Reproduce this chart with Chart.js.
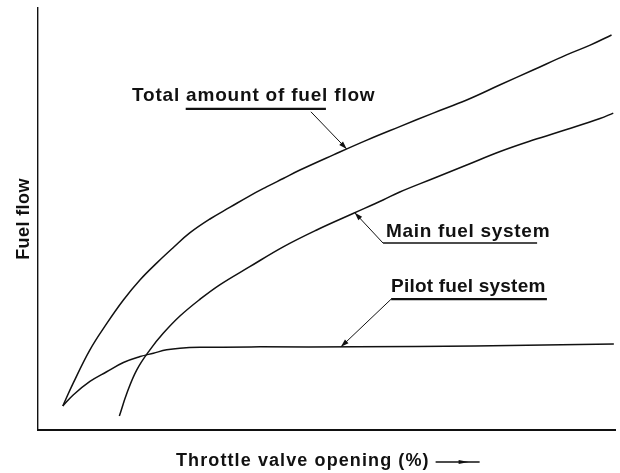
<!DOCTYPE html>
<html>
<head>
<meta charset="utf-8">
<title>Fuel flow vs throttle valve opening</title>
<script src="https://cdn.jsdelivr.net/npm/chart.js@4.4.1/dist/chart.umd.min.js"></script>
<style>
  html, body { margin: 0; padding: 0; background: #fff; }
  #wrap { width: 620px; height: 473px; }
</style>
</head>
<body>
<div id="wrap"><canvas id="fuelChart" width="620" height="473"></canvas></div>
<script>
// throttle opening (%) and relative fuel flow
const totalX = [4.3, 6.1, 9.0, 11.9, 14.8, 17.7, 20.6, 23.5, 26.3, 29.8, 33.3, 36.7, 39.6, 42.5, 45.4, 51.2, 57.0, 62.7, 68.5, 74.3, 80.1, 85.8, 91.6, 95.7, 99.4];
const totalY = [5.7, 11.1, 19.0, 25.2, 30.8, 35.6, 39.6, 43.3, 46.7, 50.0, 52.8, 55.5, 57.6, 59.6, 61.6, 65.2, 68.7, 71.9, 75.1, 78.2, 81.8, 85.3, 88.9, 91.2, 93.6];

const mainX = [14.1, 15.4, 17.1, 19.4, 21.7, 24.6, 28.1, 31.5, 36.7, 42.5, 48.3, 54.6, 59.8, 62.7, 68.5, 74.3, 80.1, 85.8, 91.6, 97.4, 99.7];
const mainY = [3.3, 8.7, 14.2, 19.0, 22.9, 27.0, 31.0, 34.4, 38.7, 43.4, 47.4, 51.3, 54.5, 56.4, 59.6, 62.8, 66.0, 68.7, 71.2, 73.8, 75.1];

const pilotX = [4.3, 6.1, 9.0, 11.9, 14.8, 17.7, 20.0, 22.3, 24.6, 28.1, 38.5, 55.3, 75.7, 99.8];
const pilotY = [5.7, 8.3, 11.5, 13.8, 16.0, 17.4, 18.2, 19.0, 19.4, 19.6, 19.7, 19.7, 19.9, 20.4];

const seriesNames = ["Total amount of fuel flow", "Main fuel system", "Pilot fuel system"];
const xTitle = "Throttle valve opening (%)";
const yTitle = "Fuel flow";

const INK = "#111";
const FONT = '"Liberation Sans", Arial, Helvetica, sans-serif';

function toPoints(xs, ys) {
  return xs.map((x, i) => ({ x: x, y: ys[i] }));
}

// linear lookup on a series so the leader arrows land on the curves
function valueAt(xs, ys, x) {
  for (let i = 1; i < xs.length; i++) {
    if (x <= xs[i]) {
      const t = (x - xs[i - 1]) / (xs[i] - xs[i - 1]);
      return ys[i - 1] + t * (ys[i] - ys[i - 1]);
    }
  }
  return ys[ys.length - 1];
}

// label callouts, in data units (text start, underline span, leader start, tip x on curve)
const callouts = [
  { text: seriesNames[0], xs: totalX, ys: totalY, tx: 16.3, ty: 78.0, u0: 25.6, u1: 49.9, uy: 76.1, uw: 2.2, lx: 47.3, ly: 75.4, tipX: 53.5, sp: 0.8 },
  { text: seriesNames[1], xs: mainX, ys: mainY, tx: 60.3, ty: 45.7, u0: 59.8, u1: 86.5, uy: 44.3, uw: 1.4, lx: 59.8, ly: 44.3, tipX: 54.9, sp: 0.7 },
  { text: seriesNames[2], xs: pilotX, ys: pilotY, tx: 61.2, ty: 32.7, u0: 61.2, u1: 88.2, uy: 31.0, uw: 2.2, lx: 61.2, ly: 31.0, tipX: 52.5, sp: 0.2 }
];

function arrowHead(ctx, x0, y0, x1, y1, len, half) {
  const a = Math.atan2(y1 - y0, x1 - x0);
  ctx.beginPath();
  ctx.moveTo(x1, y1);
  ctx.lineTo(x1 - len * Math.cos(a) + half * Math.sin(a), y1 - len * Math.sin(a) - half * Math.cos(a));
  ctx.lineTo(x1 - len * Math.cos(a) - half * Math.sin(a), y1 - len * Math.sin(a) + half * Math.cos(a));
  ctx.closePath();
  ctx.fill();
}

const labelPlugin = {
  id: "labelPlugin",
  afterDatasetsDraw(chart) {
    const { ctx, chartArea } = chart;
    const sx = chart.scales.x;
    const sy = chart.scales.y;
    ctx.save();
    ctx.fillStyle = INK;
    ctx.strokeStyle = INK;
    ctx.textBaseline = "alphabetic";
    ctx.font = "bold 19px " + FONT;

    callouts.forEach(c => {
      if ("letterSpacing" in ctx) ctx.letterSpacing = c.sp + "px";
      ctx.textAlign = "left";
      ctx.fillText(c.text, sx.getPixelForValue(c.tx), sy.getPixelForValue(c.ty));

      ctx.lineWidth = c.uw;
      ctx.beginPath();
      ctx.moveTo(sx.getPixelForValue(c.u0), sy.getPixelForValue(c.uy));
      ctx.lineTo(sx.getPixelForValue(c.u1), sy.getPixelForValue(c.uy));
      ctx.stroke();

      const x0 = sx.getPixelForValue(c.lx), y0 = sy.getPixelForValue(c.ly);
      const x1 = sx.getPixelForValue(c.tipX), y1 = sy.getPixelForValue(valueAt(c.xs, c.ys, c.tipX));
      ctx.lineWidth = 1;
      ctx.beginPath();
      ctx.moveTo(x0, y0);
      ctx.lineTo(x1, y1);
      ctx.stroke();
      arrowHead(ctx, x0, y0, x1, y1, 8, 2.6);
    });

    // y title, rotated
    ctx.save();
    ctx.font = "bold 18px " + FONT;
    if ("letterSpacing" in ctx) ctx.letterSpacing = "0.4px";
    ctx.translate(24, (chartArea.top + chartArea.bottom) / 2);
    ctx.rotate(-Math.PI / 2);
    ctx.textAlign = "center";
    ctx.textBaseline = "middle";
    ctx.fillText(yTitle, 0, 0);
    ctx.restore();

    // x title with the little direction arrow after it
    ctx.font = "bold 18px " + FONT;
    if ("letterSpacing" in ctx) ctx.letterSpacing = "1.1px";
    ctx.textAlign = "left";
    ctx.textBaseline = "middle";
    const tX = 176, tY = chartArea.bottom + 31;
    ctx.fillText(xTitle, tX, tY);
    const w = ctx.measureText(xTitle).width;
    const ax0 = tX + w + 6, ax1 = ax0 + 44;
    ctx.lineWidth = 1.3;
    ctx.beginPath();
    ctx.moveTo(ax0, tY + 1);
    ctx.lineTo(ax1, tY + 1);
    ctx.stroke();
    arrowHead(ctx, ax0 + 22, tY + 1, ax0 + 33, tY + 1, 10, 2);
    ctx.restore();
  }
};

const lineStyle = {
  borderColor: INK,
  borderWidth: 1.5,
  pointRadius: 0,
  fill: false,
  showLine: true,
  tension: 0.4
};

new Chart(document.getElementById("fuelChart"), {
  type: "scatter",
  data: {
    datasets: [
      Object.assign({ label: seriesNames[0], data: toPoints(totalX, totalY) }, lineStyle),
      Object.assign({ label: seriesNames[1], data: toPoints(mainX, mainY) }, lineStyle),
      Object.assign({ label: seriesNames[2], data: toPoints(pilotX, pilotY) }, lineStyle)
    ]
  },
  options: {
    responsive: false,
    animation: false,
    layout: { padding: { left: 38, right: 5, top: 8, bottom: 43 } },
    plugins: {
      legend: { display: false },
      tooltip: { enabled: false }
    },
    scales: {
      x: {
        type: "linear",
        min: 0,
        max: 100,
        ticks: { display: false },
        grid: { display: false, drawTicks: false },
        border: { display: true, color: INK, width: 2 }
      },
      y: {
        type: "linear",
        min: 0,
        max: 100,
        ticks: { display: false },
        grid: { display: false, drawTicks: false },
        border: { display: true, color: INK, width: 1.4 }
      }
    }
  },
  plugins: [labelPlugin]
});
</script>
</body>
</html>
